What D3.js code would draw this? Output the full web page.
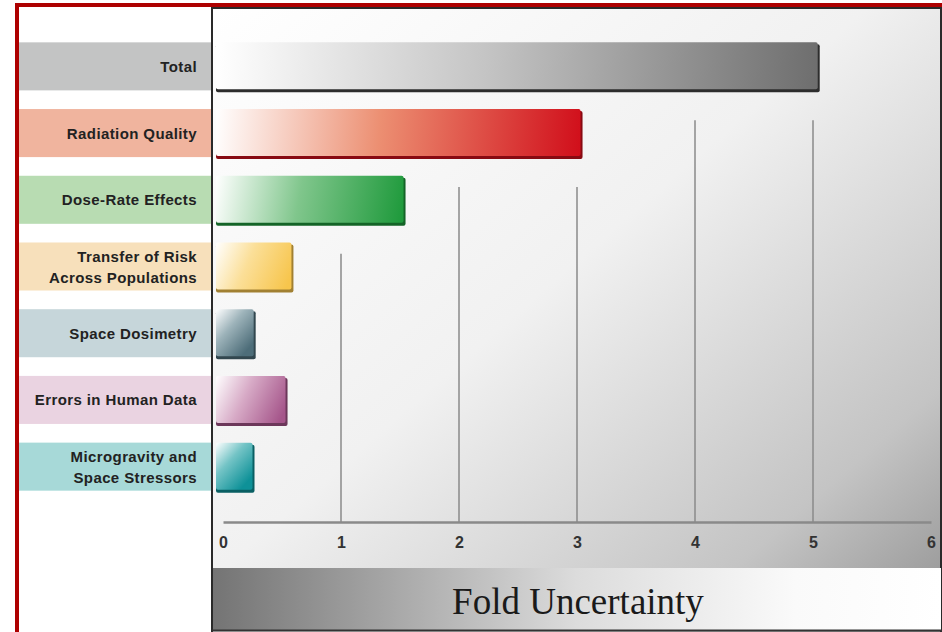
<!DOCTYPE html>
<html>
<head>
<meta charset="utf-8">
<script src="https://cdn.jsdelivr.net/npm/d3@7"></script>
<style>
  body { margin: 0; background: white; }
</style>
</head>
<body>
<div id="canvas"></div>
<script>
var w = 942;
var h = 632;

// data
var categories = [
    "Total",
    "Radiation Quality",
    "Dose-Rate Effects",
    "Transfer of Risk|Across Populations",
    "Space Dosimetry",
    "Errors in Human Data",
    "Microgravity and|Space Stressors"
];
var values = [5.04, 3.03, 1.53, 0.58, 0.26, 0.53, 0.25];
var ticks = [0, 1, 2, 3, 4, 5, 6];
var axisTitle = "Fold Uncertainty";

// styles
var barColors = ["#6e6e6e", "#d10f1b", "#1f9a3c", "#f7c54c", "#4d6d79", "#a5558a", "#0e9198"];
var barMidColors = ["#c4c4c4", "#ec8f72", "#80c68c", "#fbdf98", "#9db3ba", "#d7aac6", "#74c4c6"];
var labelColors = ["#c3c4c4", "#f0b49e", "#b8dcb2", "#f7e0bb", "#c6d6da", "#ead3e1", "#a7d9d8"];

var panelLeft = 212;
var panelTop = 8;
var barStart = 216;

var xScale = d3.scaleLinear()
               .domain([0, 6])
               .range([223, 931]);

var yScale = d3.scaleBand()
               .domain(categories)
               .range([33, 500])
               .paddingInner(0.28)
               .paddingOuter(0.14);

var canvas = d3.select("#canvas")
                .append("svg")
                .attr("width", w)
                .attr("height", h)
                .style("display", "block");

var defs = canvas.append("defs");

var panelGrad = defs.append("linearGradient")
    .attr("id", "panelGrad")
    .attr("x1", 0).attr("y1", 0).attr("x2", 1).attr("y2", 1);
panelGrad.append("stop").attr("offset", 0).attr("stop-color", "#ffffff");
panelGrad.append("stop").attr("offset", 0.45).attr("stop-color", "#f1f1f1");
panelGrad.append("stop").attr("offset", 0.8).attr("stop-color", "#c4c4c4");
panelGrad.append("stop").attr("offset", 1).attr("stop-color", "#8e8e8e");

var bannerGrad = defs.append("linearGradient")
    .attr("id", "bannerGrad")
    .attr("x1", 0).attr("y1", 0).attr("x2", 1).attr("y2", 0);
bannerGrad.append("stop").attr("offset", 0).attr("stop-color", "#747474");
bannerGrad.append("stop").attr("offset", 0.5).attr("stop-color", "#dcdcdc");
bannerGrad.append("stop").attr("offset", 0.8).attr("stop-color", "#fafafa");
bannerGrad.append("stop").attr("offset", 1).attr("stop-color", "#ffffff");

// bar gradients run mostly along the bar, a bit diagonal on the short ones
categories.forEach(function(c, i) {
    var top = yScale(c);
    var g = defs.append("linearGradient")
        .attr("id", "barGrad" + i)
        .attr("gradientUnits", "userSpaceOnUse")
        .attr("x1", barStart).attr("y1", top)
        .attr("x2", xScale(values[i])).attr("y2", top + yScale.bandwidth() * 0.7);
    g.append("stop").attr("offset", 0).attr("stop-color", "#ffffff");
    g.append("stop").attr("offset", 0.45).attr("stop-color", barMidColors[i]);
    g.append("stop").attr("offset", 1).attr("stop-color", barColors[i]);
});

// red frame
canvas.append("rect")
    .attr("x", 17)
    .attr("y", 5)
    .attr("width", w)
    .attr("height", h + 20)
    .attr("fill", "white")
    .attr("stroke", "#ad0000")
    .attr("stroke-width", 4);

// chart panel
canvas.append("rect")
    .attr("x", panelLeft)
    .attr("y", panelTop)
    .attr("width", w - panelLeft - 1)
    .attr("height", h - panelTop + 10)
    .attr("fill", "url(#panelGrad)")
    .attr("stroke", "#2a2a2a")
    .attr("stroke-width", 2);

// label boxes
var labels = canvas.selectAll(".label-box")
    .data(categories)
    .join("g")
    .attr("class", "label-box");

labels.append("rect")
    .attr("x", 19)
    .attr("y", d => yScale(d))
    .attr("width", panelLeft - 20)
    .attr("height", yScale.bandwidth())
    .attr("fill", (d, i) => labelColors[i]);

labels.append("text")
    .attr("text-anchor", "end")
    .attr("font-family", "'Liberation Sans', Arial, sans-serif")
    .attr("font-weight", "bold")
    .attr("font-size", 15)
    .attr("letter-spacing", 0.4)
    .attr("fill", "#222")
    .each(function(d) {
        var lines = d.split("|");
        var cy = yScale(d) + yScale.bandwidth() / 2;
        var t = d3.select(this);
        lines.forEach(function(line, k) {
            t.append("tspan")
                .attr("x", 197)
                .attr("y", cy + 5.5 + (k - (lines.length - 1) / 2) * 21)
                .text(line);
        });
    });

// grid lines, each starting under the lowest bar that reaches it
canvas.selectAll(".grid")
    .data(ticks.slice(1, 6))
    .join("line")
    .attr("class", "grid")
    .attr("x1", d => xScale(d))
    .attr("x2", d => xScale(d))
    .attr("y1", function(d) {
        var lowest = categories.filter((c, i) => values[i] >= d).pop();
        return yScale(lowest) + yScale.bandwidth() + 30;
    })
    .attr("y2", 522)
    .attr("stroke", "#8a8a8a")
    .attr("stroke-width", 1.5);

// bars: shadow then gradient face
var bars = canvas.selectAll(".bar")
    .data(categories)
    .join("g")
    .attr("class", "bar");

bars.append("rect")
    .attr("x", barStart)
    .attr("y", d => yScale(d) + 2)
    .attr("width", (d, i) => xScale(values[i]) - barStart + 2)
    .attr("height", yScale.bandwidth())
    .attr("rx", 2)
    .attr("fill", (d, i) => d3.color(barColors[i]).darker(i === 0 ? 2.5 : 1.2));

bars.append("rect")
    .attr("x", barStart)
    .attr("y", d => yScale(d))
    .attr("width", (d, i) => xScale(values[i]) - barStart)
    .attr("height", yScale.bandwidth() - 1)
    .attr("rx", 2)
    .attr("fill", (d, i) => "url(#barGrad" + i + ")");

// x axis
var xAxis = d3.axisBottom(xScale)
    .tickValues(ticks)
    .tickFormat(d3.format("d"))
    .tickSize(0)
    .tickPadding(15);

var axisG = canvas.append("g")
    .attr("transform", "translate(0, 522)")
    .call(xAxis);

axisG.select(".domain")
    .attr("stroke", "#8a8a8a")
    .attr("stroke-width", 2.5);

axisG.selectAll("text")
    .attr("font-family", "'Liberation Sans', Arial, sans-serif")
    .attr("font-weight", "bold")
    .attr("font-size", 16)
    .attr("fill", "#333");

// bottom banner with axis title
canvas.append("rect")
    .attr("x", panelLeft + 1)
    .attr("y", 568)
    .attr("width", w - panelLeft - 2)
    .attr("height", 62)
    .attr("fill", "url(#bannerGrad)");

canvas.append("line")
    .attr("x1", panelLeft)
    .attr("x2", w)
    .attr("y1", 630.5)
    .attr("y2", 630.5)
    .attr("stroke", "#333")
    .attr("stroke-width", 2);

canvas.append("text")
    .attr("x", 578)
    .attr("y", 614)
    .attr("text-anchor", "middle")
    .attr("font-family", "'Liberation Serif', 'Times New Roman', serif")
    .attr("font-size", 37)
    .attr("fill", "#1a1a1a")
    .text(axisTitle);
</script>
</body>
</html>
